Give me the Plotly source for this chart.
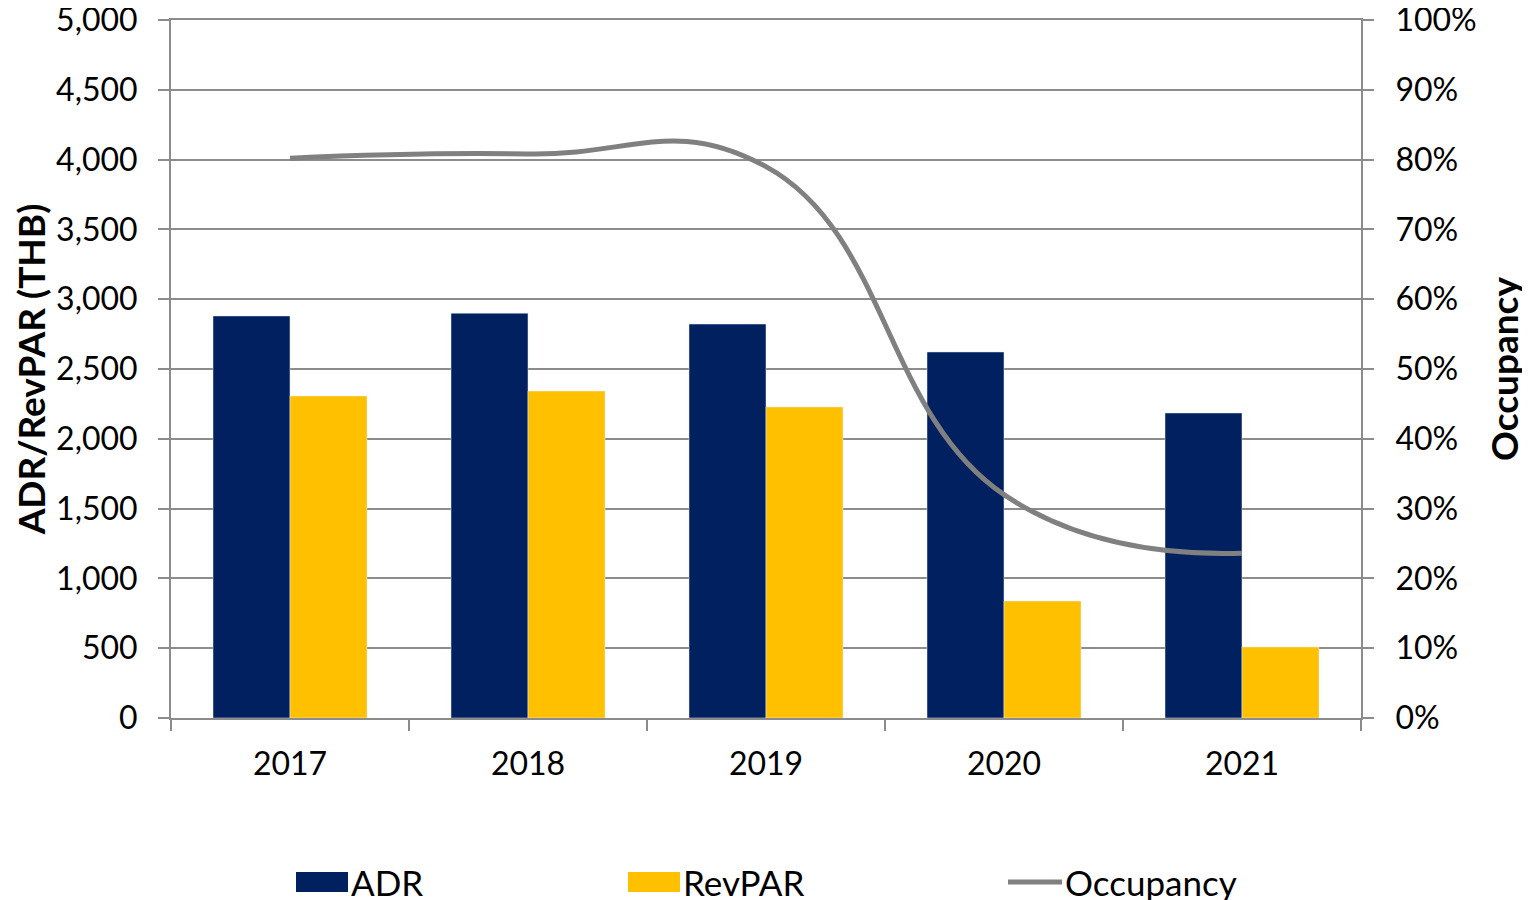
import plotly.graph_objects as go

years = ["2017", "2018", "2019", "2020", "2021"]
adr = [2880, 2900, 2822, 2622, 2185]
revpar = [2307, 2342, 2228, 838, 509]
occupancy = [0.802, 0.808, 0.790, 0.320, 0.236]

NAVY = "#002060"
GOLD = "#FFC000"
LINE = "#808080"
GRID = "#8C8C8C"
FONT = "Lato"

# page offset from default body margin (8px)
OFF = 8
W, H = 1530 - OFF, 900 - OFF
# plot area in page pixels
L, R, T, B = 171, 1361, 20, 718

fig = go.Figure()
fig.add_trace(go.Bar(x=years, y=adr, name="ADR", marker_color=NAVY, showlegend=False))
fig.add_trace(go.Bar(x=years, y=revpar, name="RevPAR", marker_color=GOLD, showlegend=False))
fig.add_trace(go.Scatter(x=years, y=occupancy, name="Occupancy", yaxis="y2", mode="lines",
                         line=dict(color=LINE, width=5, shape="spline", smoothing=1.3),
                         showlegend=False))

fig.update_layout(
    width=W, height=H,
    margin=dict(l=L - OFF, r=1530 - R, t=T - OFF, b=900 - B, autoexpand=False),
    paper_bgcolor="white", plot_bgcolor="white",
    font=dict(family=FONT, size=32, color="black"),
    barmode="group", bargap=0.353, bargroupgap=0,
    xaxis=dict(type="category", tickson="boundaries", ticks="outside", ticklen=11,
               tickcolor=GRID, tickwidth=2, showline=True, linecolor=GRID, linewidth=2,
               mirror=True, showgrid=False, tickfont=dict(size=32), ticklabelstandoff=17),
    yaxis=dict(range=[0, 5000], dtick=500, tickformat=",", ticks="outside", ticklen=11,
               tickcolor=GRID, tickwidth=2, showline=True, linecolor=GRID, linewidth=2,
               showgrid=True, gridcolor=GRID, gridwidth=2, zeroline=False,
               ticklabelstandoff=14, ticklabeloverflow="allow",
               title=dict(text="<b>ADR/RevPAR (THB)</b>", font=dict(size=37), standoff=8)),
    yaxis2=dict(range=[0, 1], dtick=0.1, tickformat=".0%", overlaying="y", side="right",
                ticks="outside", ticklen=11, tickcolor=GRID, tickwidth=2,
                showline=True, linecolor=GRID, linewidth=2, showgrid=False, zeroline=False,
                ticklabelstandoff=15, ticklabeloverflow="allow",
                title=dict(text="<b>Occupancy</b>", font=dict(size=37), standoff=16)),
)

# custom legend (Excel-style wide swatches), positions in page pixels
def px(xp):
    return (xp - L) / (R - L)

def py(yp):
    return (B - yp) / (B - T)

legend_items = [("ADR", "bar", NAVY, 296, 348), ("RevPAR", "bar", GOLD, 628, 680),
                ("Occupancy", "line", LINE, 1008, 1062)]
cy = 882
for label, kind, color, x0, x1 in legend_items:
    if kind == "bar":
        fig.add_shape(type="rect", xref="paper", yref="paper", x0=px(x0), x1=px(x1),
                      y0=py(cy + 10), y1=py(cy - 10), fillcolor=color, line=dict(width=0))
    else:
        fig.add_shape(type="line", xref="paper", yref="paper", x0=px(x0), x1=px(x1),
                      y0=py(cy), y1=py(cy), line=dict(color=color, width=5))
    fig.add_annotation(text=label, xref="paper", yref="paper", x=px(x1 + 1), y=py(cy),
                       xanchor="left", yanchor="middle", showarrow=False,
                       font=dict(size=35, color="black"))

fig.write_html("out.html")
